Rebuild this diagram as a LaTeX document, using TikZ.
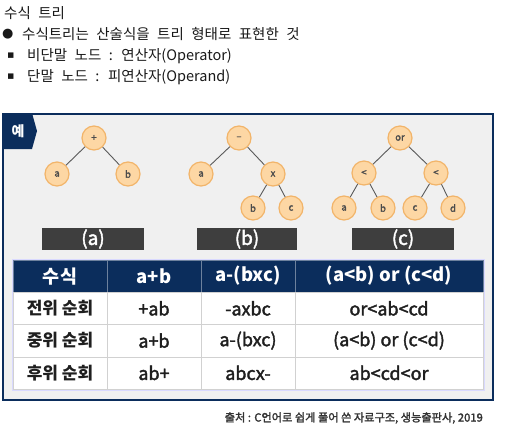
\documentclass[tikz,border=0pt]{standalone}
\usepackage{fontspec}
\setmainfont{Noto Sans CJK KR}
\newfontfamily\medfont{Noto Sans CJK KR}[FakeBold=2]
\newfontfamily\linefont{Noto Sans CJK KR}[WordSpace=2.3]
\newfontfamily\symfont{DejaVu Sans}
\usetikzlibrary{positioning}

\definecolor{navy}{HTML}{0B2D5C}
\definecolor{nodefill}{HTML}{FDD7A4}
\definecolor{nodeline}{HTML}{F2B469}
\definecolor{barfill}{HTML}{3E3E3E}
\definecolor{panelbg}{HTML}{F0F0F0}

\begin{document}
\begin{tikzpicture}[x=1pt,y=-1pt,
  line/.style={anchor=west,inner sep=0pt,font=\linefont\fontsize{14.5}{16}\selectfont,text=black!90},
  bullet/.style={anchor=west,inner sep=0pt,text=black!90},
  tnode/.style={circle,draw=nodeline,line width=1.2pt,fill=nodefill,minimum size=24pt,inner sep=0pt,font=\medfont\fontsize{9.5}{9.5}\selectfont,text=black!70},
  tedge/.style={draw=black!65,line width=0.9pt},
  capbar/.style={fill=barfill,minimum width=102pt,minimum height=22pt,inner sep=0pt,text=white,font=\medfont\fontsize{19}{19}\selectfont},
  cell/.style={draw=black!18,fill=white,minimum height=32.25pt,inner sep=0pt,font=\medfont\fontsize{18}{18}\selectfont,text=black!88},
  rowhead/.style={cell,minimum width=94pt,font=\fontsize{17}{17}\selectfont\bfseries},
  headcell/.style={cell,fill=navy,draw=navy!60!white,text=white,font=\fontsize{18.5}{18.5}\selectfont\bfseries}]
\useasboundingbox (0,0) rectangle (523,445);

\node[line] (title) at (4,13) {수식 트리};
\node[bullet,font=\symfont\fontsize{13}{13}\selectfont] (dot1) at (2,34) {●};
\node[line] (desc) at (22,34) {수식트리는 산술식을 트리 형태로 표현한 것};
\node[bullet,font=\symfont\fontsize{11}{11}\selectfont] (sq1) at (7,56) {▪};
\node[line] (inner) at (27,56) {비단말 노드 : 연산자(Operator)};
\node[bullet,font=\symfont\fontsize{11}{11}\selectfont] (sq2) at (7,77) {▪};
\node[line] (leaf) at (27,77) {단말 노드 : 피연산자(Operand)};

\draw[navy,line width=2pt,fill=panelbg] (3,114) rectangle (493,400);
\fill[navy] (3,113) -- (32,113) -- (37,131) -- (32,149) -- (3,149) -- cycle;
\node[text=white,font=\fontsize{14}{14}\selectfont\bfseries] (ex) at (18,131) {예};

\node[tnode] (a0) at (94,138) {+};
\node[tnode] (a1) at (57,174) {a};
\node[tnode] (a2) at (128,174) {b};
\draw[tedge] (a0) -- (a1);
\draw[tedge] (a0) -- (a2);

\node[tnode] (b0) at (239,138) {–};
\node[tnode] (b1) at (201,174) {a};
\node[tnode] (b2) at (273,174) {x};
\node[tnode] (b3) at (253,208) {b};
\node[tnode] (b4) at (291,208) {c};
\draw[tedge] (b0) -- (b1);
\draw[tedge] (b0) -- (b2);
\draw[tedge] (b2) -- (b3);
\draw[tedge] (b2) -- (b4);

\node[tnode] (c0) at (400,138) {or};
\node[tnode] (c1) at (364,173) {<};
\node[tnode] (c2) at (436,173) {<};
\node[tnode] (c3) at (344,208) {a};
\node[tnode] (c4) at (383,208) {b};
\node[tnode] (c5) at (415,208) {c};
\node[tnode] (c6) at (453,208) {d};
\draw[tedge] (c0) -- (c1);
\draw[tedge] (c0) -- (c2);
\draw[tedge] (c1) -- (c3);
\draw[tedge] (c1) -- (c4);
\draw[tedge] (c2) -- (c5);
\draw[tedge] (c2) -- (c6);

\node[capbar] (capa) at (93,239) {(a)};
\node[capbar,minimum width=100pt] (capb) at (247,239) {(b)};
\node[capbar] (capc) at (403,239) {(c)};

\draw[blue!15,line width=0.8pt] (12,259) rectangle (484,390);

\node[headcell,minimum width=94pt] (h0) at (60,276.1) {수식};
\node[headcell,minimum width=94pt] (h1) at (154,276.1) {a+b};
\node[headcell,minimum width=94pt] (h2) at (248,276.1) {a-(bxc)};
\node[headcell,minimum width=188pt] (h3) at (389,276.1) {(a<b) or (c<d)};

\node[rowhead] (r10) at (60,308.4) {전위 순회};
\node[cell,minimum width=94pt] (r11) at (154,308.4) {+ab};
\node[cell,minimum width=94pt] (r12) at (248,308.4) {-axbc};
\node[cell,minimum width=188pt] (r13) at (389,308.4) {or<ab<cd};

\node[rowhead] (r20) at (60,340.6) {중위 순회};
\node[cell,minimum width=94pt] (r21) at (154,340.6) {a+b};
\node[cell,minimum width=94pt] (r22) at (248,340.6) {a-(bxc)};
\node[cell,minimum width=188pt] (r23) at (389,340.6) {(a<b) or (c<d)};

\node[rowhead] (r30) at (60,372.9) {후위 순회};
\node[cell,minimum width=94pt] (r31) at (154,372.9) {ab+};
\node[cell,minimum width=94pt] (r32) at (248,372.9) {abcx-};
\node[cell,minimum width=188pt] (r33) at (389,372.9) {ab<cd<or};

\node[anchor=east,inner sep=0pt,font=\medfont\fontsize{11.2}{11.2}\selectfont,text=black!80] (src) at (483,418) {출처 : C언어로 쉽게 풀어 쓴 자료구조, 생능출판사, 2019};
\end{tikzpicture}
\end{document}
